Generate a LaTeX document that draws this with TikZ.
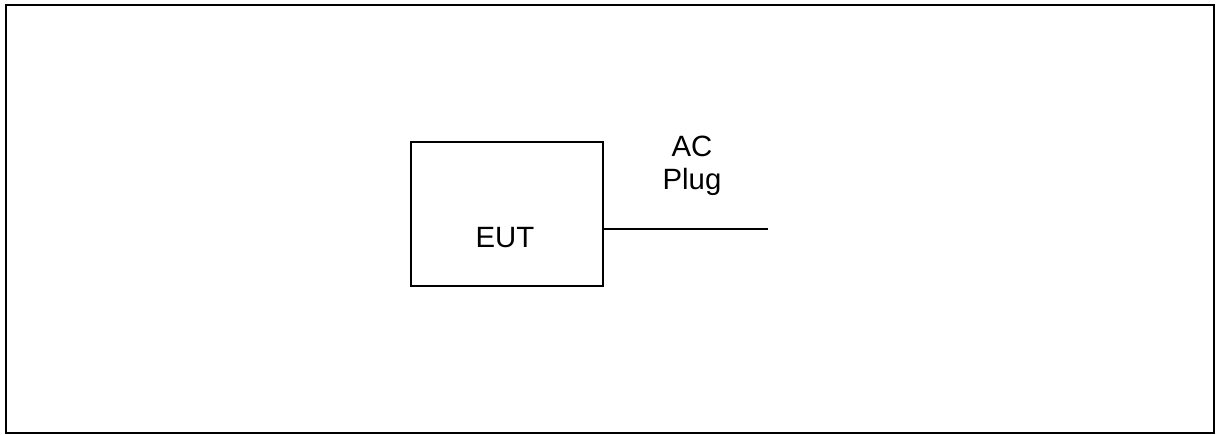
\documentclass[tikz,border=0pt]{standalone}
\usepackage{fontspec}
\setmainfont{Liberation Sans}
\tikzset{
  eutbox/.style={draw, line width=1pt, minimum width=144pt, minimum height=108pt, inner sep=0pt},
  lbl/.style={inner sep=0pt, font=\fontsize{22}{24.75}\selectfont},
}
\begin{document}
\begin{tikzpicture}[x=0.75pt,y=0.75pt,yscale=-1,xscale=1]
    \useasboundingbox (0,0) rectangle (1216,435);
    %Shape: Rectangle (outer frame)
    \draw [line width=1.5pt] (6,5) rectangle (1214,433);
    %Shape: Rectangle
    \node [eutbox] (eut) at (507,214) {};
    % Text Node
    \node [lbl] (euttext) at (505,238) {EUT};
    % Text Node
    \node [lbl, align=center, anchor=north] (acplug) at (692,136) {AC\\Plug};
    %Straight Lines
    \coordinate (plug) at (768,229);
    \draw [line width=1pt] (eut.east |- plug) -- (plug);
\end{tikzpicture}
\end{document}
